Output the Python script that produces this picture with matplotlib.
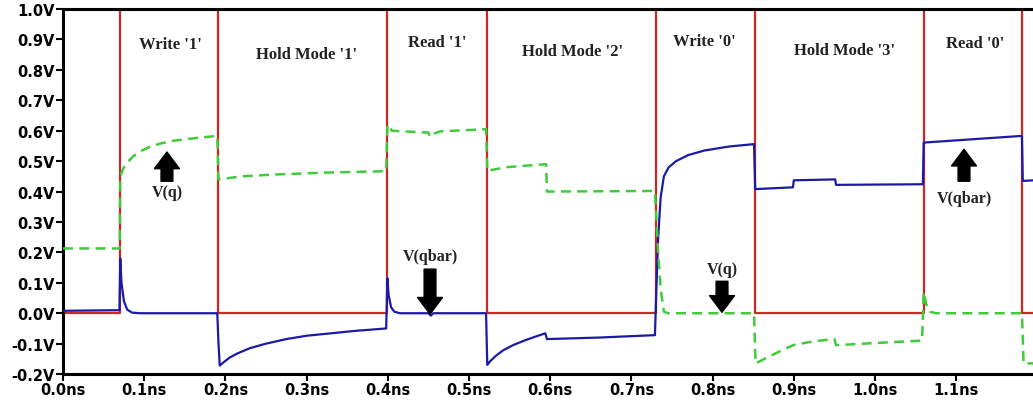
import matplotlib.pyplot as plt
import numpy as np

# red control pulse (word line), step levels between edges
pulse_t = [0.0, 0.070, 0.191, 0.399, 0.522, 0.730, 0.852, 1.060, 1.181, 1.196]
pulse_v = [0, 1, 0, 1, 0, 1, 0, 1, 0, 0]

# V(qbar), solid blue
qbar_t = [0.0, 0.0695, 0.0705, 0.072, 0.075, 0.079, 0.085, 0.095, 0.190, 0.1915,
          0.193, 0.197, 0.205, 0.215, 0.23, 0.25, 0.275, 0.30, 0.33, 0.36,
          0.398, 0.3995, 0.401, 0.404, 0.408, 0.415, 0.450, 0.453, 0.456, 0.521,
          0.5225, 0.526, 0.533, 0.542, 0.555, 0.57, 0.585, 0.594, 0.596, 0.66,
          0.729, 0.731, 0.733, 0.736, 0.740, 0.746, 0.755, 0.770, 0.790, 0.820,
          0.851, 0.8525, 0.899, 0.900, 0.951, 0.952, 1.059, 1.060, 1.181, 1.182,
          1.196]
qbar_v = [0.008, 0.010, 0.18, 0.10, 0.04, 0.012, 0.002, 0.0, 0.0, -0.10,
          -0.172, -0.163, -0.146, -0.132, -0.115, -0.100, -0.085, -0.074, -0.066, -0.058,
          -0.050, 0.115, 0.06, 0.02, 0.005, 0.0, 0.0, -0.008, 0.0, 0.0,
          -0.17, -0.158, -0.140, -0.122, -0.104, -0.088, -0.074, -0.066, -0.085, -0.080,
          -0.072, 0.10, 0.25, 0.38, 0.45, 0.48, 0.50, 0.52, 0.535, 0.548,
          0.556, 0.408, 0.414, 0.437, 0.440, 0.422, 0.424, 0.561, 0.583, 0.435,
          0.437]

# V(q), dashed green
q_t = [0.0, 0.0698, 0.0705, 0.074, 0.079, 0.086, 0.095, 0.107, 0.12, 0.136,
       0.16, 0.190, 0.1915, 0.22, 0.26, 0.32, 0.398, 0.3995, 0.405, 0.44,
       0.450, 0.452, 0.456, 0.465, 0.521, 0.5225, 0.545, 0.595, 0.596, 0.729,
       0.731, 0.733, 0.736, 0.740, 0.745, 0.851, 0.853, 0.875, 0.899, 0.925,
       0.950, 0.952, 1.00, 1.058, 1.060, 1.063, 1.068, 1.075, 1.181, 1.183,
       1.196]
q_v = [0.213, 0.213, 0.45, 0.475, 0.495, 0.515, 0.532, 0.547, 0.558, 0.567,
       0.575, 0.583, 0.44, 0.450, 0.456, 0.462, 0.467, 0.62, 0.600, 0.595,
       0.594, 0.580, 0.590, 0.598, 0.605, 0.468, 0.48, 0.49, 0.400, 0.402,
       0.30, 0.20, 0.08, 0.005, 0.0, 0.0, -0.165, -0.135, -0.105, -0.092,
       -0.085, -0.105, -0.098, -0.090, 0.07, 0.03, 0.005, 0.0, 0.0, -0.165,
       -0.165]

modes = ["Write '1'", "Hold Mode '1'", "Read '1'", "Hold Mode '2'",
         "Write '0'", "Hold Mode '3'", "Read '0'"]
mode_x = [0.132, 0.300, 0.461, 0.627, 0.790, 0.963, 1.123]
mode_y = [0.885, 0.852, 0.891, 0.862, 0.895, 0.865, 0.888]

yticks = [-0.2, -0.1, 0.0, 0.1, 0.2, 0.3, 0.4, 0.5, 0.6, 0.7, 0.8, 0.9, 1.0]
xticks = [0.0, 0.1, 0.2, 0.3, 0.4, 0.5, 0.6, 0.7, 0.8, 0.9, 1.0, 1.1]

fig = plt.figure(figsize=(10.33, 4.02), dpi=100)
ax = fig.add_axes([0.061, 0.067, 0.939, 0.908])

ax.step(pulse_t, pulse_v, where='post', color='#cc2626', lw=1.6, zorder=2)
ax.plot(qbar_t, qbar_v, color='#1a1aa6', lw=1.6, zorder=3)
ax.plot(q_t, q_v, color='#3fcc3a', lw=1.8, dashes=(4, 2.5), zorder=3)

for s, x, y in zip(modes, mode_x, mode_y):
    ax.text(x, y, s, ha='center', va='center', fontsize=12, fontweight='bold',
            family='Liberation Serif', color='#222222')

arrow = dict(arrowstyle='simple,head_width=1.8,head_length=1.2,tail_width=0.85',
             color='black', shrinkA=0, shrinkB=0)
# (tip, tail, label position, label)
notes = [((0.128, 0.53), (0.128, 0.434), (0.128, 0.398), 'V(q)'),
         ((0.452, -0.003), (0.452, 0.145), (0.452, 0.188), 'V(qbar)'),
         ((0.8116, 0.003), (0.8116, 0.105), (0.8116, 0.145), 'V(q)'),
         ((1.1096, 0.539), (1.1096, 0.434), (1.1096, 0.378), 'V(qbar)')]
for tip, tail, lab, s in notes:
    ax.annotate('', xy=tip, xytext=tail, arrowprops=arrow, zorder=5)
    ax.text(lab[0], lab[1], s, ha='center', va='center', fontsize=11.5,
            fontweight='bold', family='Liberation Serif', color='#222222')

ax.set_xlim(0, 1.1946)
ax.set_ylim(-0.2, 1.0)
ax.set_yticks(yticks)
ax.set_yticklabels([f"{v:.1f}V" for v in yticks])
ax.set_xticks(xticks)
ax.set_xticklabels([f"{v:.1f}ns" for v in xticks])
for lab in ax.get_xticklabels() + ax.get_yticklabels():
    lab.set_fontweight('heavy')
    lab.set_fontsize(10.5)
ax.tick_params(axis='both', direction='out', length=5, width=1.5, pad=1)
for side in ['left', 'bottom', 'top']:
    ax.spines[side].set_linewidth(2.2)
ax.spines['right'].set_visible(False)

fig.savefig('out.png', dpi=100)
